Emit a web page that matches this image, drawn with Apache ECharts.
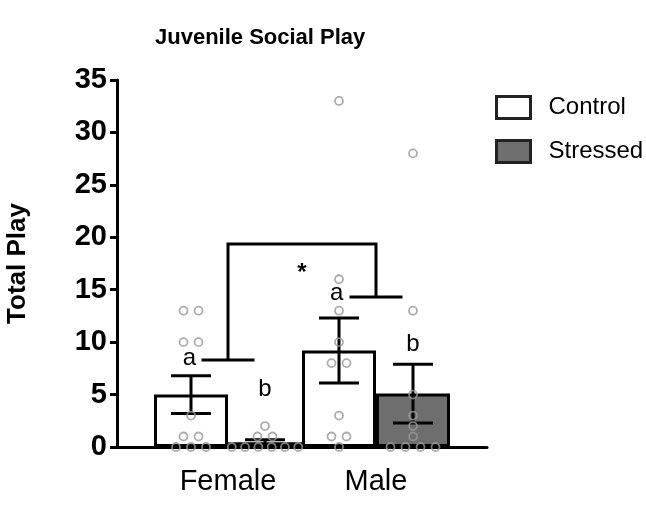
<!DOCTYPE html>
<html>
<head>
<meta charset="utf-8">
<script src="https://cdn.jsdelivr.net/npm/echarts@6/dist/echarts.min.js"></script>
<style>
  html, body { margin: 0; padding: 0; background: #fff; }
  #chart { width: 646px; height: 508px; }
</style>
</head>
<body>
<div id="chart"></div>
<script>
// ---------------- data ----------------
const categories = ['Female', 'Male'];
const seriesNames = ['Control', 'Stressed'];
const controlMeans = [5.0, 9.2];
const stressedMeans = [0.45, 5.1];
const controlSem = [1.8, 3.1];
const stressedSem = [0.25, 2.8];
const femaleControlPoints = [13, 13, 10, 10, 3, 1, 1, 0, 0, 0];
const femaleStressedPoints = [2, 1, 1, 0, 0, 0, 0, 0, 0];
const maleControlPoints = [33, 16, 13, 10, 8, 8, 3, 1, 1, 0];
const maleStressedPoints = [28, 13, 5, 3, 2, 1, 0, 0, 0, 0];
const yMin = 0, yMax = 35, yStep = 5;
const bracketLevels = [8.3, 19.35, 14.3];   // Female stub, top bar, Male stub
const bracketMark = '*';
const starLevel = 16.6;
const letterText = ['a', 'b', 'a', 'b'];
const letterLevels = [8.45, 5.45, 14.65, 9.75];

// ---------------- layout ----------------
const FONT = '"Liberation Sans", Arial, Helvetica, sans-serif';
const GROUP_X = [0.75, 1.75];
const HALF = 0.25;
const barX = (g, s) => GROUP_X[g] + (s === 0 ? -HALF : HALF);

function dotsFor(points, x) {
  const counts = {};
  points.forEach(v => { counts[v] = (counts[v] || 0) + 1; });
  const seen = {};
  return points.map(v => {
    const n = counts[v];
    const k = seen[v] = (seen[v] === undefined ? 0 : seen[v] + 1);
    const spacing = n > 5 ? 13.3 : 15;
    return { value: [x, v], symbolOffset: [(k - (n - 1) / 2) * spacing, 0] };
  });
}

const dots = []
  .concat(dotsFor(femaleControlPoints, barX(0, 0)))
  .concat(dotsFor(femaleStressedPoints, barX(0, 1)))
  .concat(dotsFor(maleControlPoints, barX(1, 0)))
  .concat(dotsFor(maleStressedPoints, barX(1, 1)));

const errData = [];
categories.forEach((c, g) => {
  errData.push([barX(g, 0), controlMeans[g], controlSem[g]]);
  errData.push([barX(g, 1), stressedMeans[g], stressedSem[g]]);
});

const letterX = [0.49, barX(0, 1), 1.485, barX(1, 1)];

const chart = echarts.init(document.getElementById('chart'), null, { renderer: 'canvas' });

const option = {
  backgroundColor: '#ffffff',
  animation: false,
  title: {
    text: 'Juvenile Social Play',
    left: 150,
    top: 22,
    textStyle: { fontFamily: FONT, fontSize: 22, fontWeight: 'bold', color: '#000' }
  },
  legend: {
    orient: 'vertical',
    left: 490,
    top: 90,
    itemWidth: 34,
    itemHeight: 22,
    itemGap: 19,
    icon: 'rect',
    data: seriesNames,
    itemStyle: { borderColor: '#222', borderWidth: 3 },
    textStyle: { fontFamily: FONT, fontSize: 24, color: '#000', padding: [0, 0, 0, 13] }
  },
  grid: { left: 117, right: 159, top: 80, bottom: 61, containLabel: false, outerBoundsMode: 'none' },
  xAxis: {
    type: 'value',
    min: 0,
    max: 2.5,
    interval: 0.25,
    splitLine: { show: false },
    axisTick: { show: false },
    axisLine: { lineStyle: { color: '#000', width: 3 } },
    axisLabel: {
      margin: 20,
      fontFamily: FONT,
      fontSize: 29,
      color: '#000',
      formatter: v => {
        for (let i = 0; i < GROUP_X.length; i++) if (Math.abs(v - GROUP_X[i]) < 1e-6) return categories[i];
        return '';
      }
    }
  },
  yAxis: {
    type: 'value',
    min: yMin,
    max: yMax,
    interval: yStep,
    name: 'Total Play',
    nameLocation: 'middle',
    nameRotate: 90,
    nameGap: 86,
    nameTextStyle: { fontFamily: FONT, fontSize: 26, fontWeight: 'bold', color: '#000' },
    splitLine: { show: false },
    axisLine: { lineStyle: { color: '#000', width: 3 } },
    axisTick: { length: 7, lineStyle: { color: '#000', width: 3 } },
    axisLabel: { margin: 10, fontFamily: FONT, fontSize: 29, fontWeight: 'bold', color: '#000' }
  },
  series: [
    {
      type: 'bar',
      name: seriesNames[0],
      barWidth: 74,
      barGap: '-100%',
      z: 2,
      itemStyle: { color: '#ffffff', borderColor: '#000', borderWidth: 3 },
      data: categories.map((c, g) => [barX(g, 0), controlMeans[g]])
    },
    {
      type: 'bar',
      name: seriesNames[1],
      barWidth: 74,
      barGap: '-100%',
      z: 2,
      itemStyle: { color: '#6e6e6e', borderColor: '#000', borderWidth: 3 },
      data: categories.map((c, g) => [barX(g, 1), stressedMeans[g]])
    },
    {
      type: 'custom',
      name: 'error',
      z: 3,
      data: errData,
      renderItem: function (params, api) {
        const x = api.value(0), m = api.value(1), s = api.value(2);
        const top = api.coord([x, m + s]);
        const bot = api.coord([x, Math.max(0, m - s)]);
        const cw = 20;
        const st = { stroke: '#000', lineWidth: 3, fill: null };
        return {
          type: 'group',
          children: [
            { type: 'line', shape: { x1: top[0], y1: top[1], x2: bot[0], y2: bot[1] }, style: st },
            { type: 'line', shape: { x1: top[0] - cw, y1: top[1], x2: top[0] + cw, y2: top[1] }, style: st },
            { type: 'line', shape: { x1: bot[0] - cw, y1: bot[1], x2: bot[0] + cw, y2: bot[1] }, style: st }
          ]
        };
      }
    },
    {
      type: 'scatter',
      name: 'points',
      z: 4,
      symbol: 'circle',
      symbolSize: 8,
      itemStyle: { color: 'rgba(255,255,255,0)', borderColor: '#999999', borderWidth: 1.8 },
      data: dots
    },
    {
      type: 'custom',
      name: 'bracket',
      z: 3,
      data: [[GROUP_X[0], bracketLevels[0], GROUP_X[1], bracketLevels[2], bracketLevels[1]]],
      renderItem: function (params, api) {
        const f = api.coord([api.value(0), api.value(1)]);
        const mm = api.coord([api.value(2), api.value(3)]);
        const t = api.coord([api.value(0), api.value(4)]);
        const tm = api.coord([api.value(2), api.value(4)]);
        const hw = 26.5;
        const st = { stroke: '#000', lineWidth: 3, fill: null };
        return {
          type: 'group',
          children: [
            { type: 'polyline', shape: { points: [[f[0], f[1]], [t[0], t[1]], [tm[0], tm[1]], [mm[0], mm[1]]] }, style: st },
            { type: 'line', shape: { x1: f[0] - hw, y1: f[1], x2: f[0] + hw, y2: f[1] }, style: st },
            { type: 'line', shape: { x1: mm[0] - hw, y1: mm[1], x2: mm[0] + hw, y2: mm[1] }, style: st }
          ]
        };
      }
    },
    {
      type: 'custom',
      name: 'letters',
      z: 5,
      data: letterText.map((t, i) => [letterX[i], letterLevels[i], i]),
      renderItem: function (params, api) {
        const p = api.coord([api.value(0), api.value(1)]);
        const i = api.value(2);
        return {
          type: 'text',
          x: p[0], y: p[1],
          style: { text: letterText[i], fontFamily: FONT, fontSize: 24, fill: '#000', align: 'center', verticalAlign: 'middle' }
        };
      }
    },
    {
      type: 'custom',
      name: 'star',
      z: 5,
      data: [[(GROUP_X[0] + GROUP_X[1]) / 2, starLevel]],
      renderItem: function (params, api) {
        const p = api.coord([api.value(0), api.value(1)]);
        return {
          type: 'text',
          x: p[0], y: p[1],
          style: { text: bracketMark, fontFamily: FONT, fontSize: 24, fontWeight: 'bold', fill: '#000', align: 'center', verticalAlign: 'middle' }
        };
      }
    }
  ]
};

chart.setOption(option);
</script>
</body>
</html>
